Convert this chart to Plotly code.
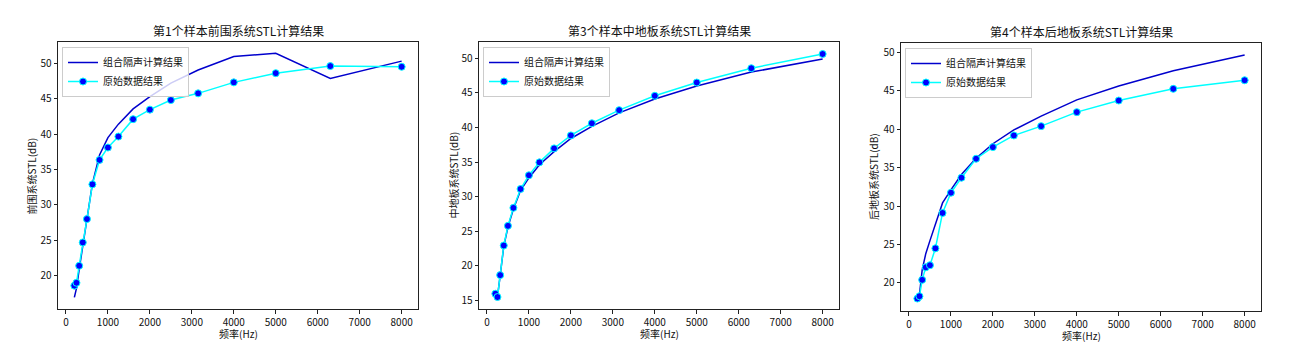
import plotly.graph_objects as go

freq = [200, 250, 315, 400, 500, 630, 800, 1000, 1250, 1600, 2000, 2500, 3150, 4000, 5000, 6300, 8000]

# Sample 1 - 前围系统
calc1 = [16.95, 18.2, 20.9, 24.5, 28.0, 33.0, 37.05, 39.5, 41.4, 43.55, 45.3, 47.2, 49.05, 50.95, 51.4, 47.85, 50.3]
orig1 = [18.6, 19.0, 21.4, 24.7, 28.0, 32.9, 36.35, 38.1, 39.65, 42.1, 43.45, 44.8, 45.75, 47.3, 48.6, 49.6, 49.5]

# Sample 3 - 中地板系统
calc3 = [16.0, 15.5, 18.6, 22.8, 25.6, 28.2, 30.9, 32.7, 34.6, 36.5, 38.4, 40.15, 42.1, 44.1, 46.0, 48.0, 49.9]
orig3 = [15.96, 15.48, 18.65, 22.93, 25.77, 28.37, 31.1, 33.08, 34.95, 36.97, 38.85, 40.6, 42.5, 44.57, 46.49, 48.56, 50.62]

# Sample 4 - 后地板系统
calc4 = [17.9, 18.5, 21.7, 23.8, 25.5, 27.7, 30.4, 32.1, 34.1, 36.2, 38.1, 39.9, 41.7, 43.8, 45.6, 47.6, 49.65]
orig4 = [17.97, 18.27, 20.4, 22.03, 22.3, 24.5, 29.1, 31.73, 33.68, 36.15, 37.66, 39.18, 40.39, 42.21, 43.72, 45.24, 46.36]

titles = ["第1个样本前围系统STL计算结果", "第3个样本中地板系统STL计算结果", "第4个样本后地板系统STL计算结果"]
ylabels = ["前围系统STL(dB)", "中地板系统STL(dB)", "后地板系统STL(dB)"]
xlabel = "频率(Hz)"
name_calc = "组合隔声计算结果"
name_orig = "原始数据结果"

W, H = 1307, 350
FONT = "Noto Sans CJK SC, SimHei, sans-serif"

# axes pixel boxes (left, right, top, bottom)
boxes = [(58, 418, 42, 309), (479, 839, 42, 309), (901, 1261, 43, 311)]
yranges = [[15.3, 53.0], [13.75, 52.35], [16.35, 51.2]]
ylabel_x = [31, 453, 874]

data = [(calc1, orig1), (calc3, orig3), (calc4, orig4)]

fig = go.Figure()
annotations = []
layout = {}
for i, ((calc, orig), (l, r, t, b)) in enumerate(zip(data, boxes)):
    k = "" if i == 0 else str(i + 1)
    leg = "legend" if i == 0 else f"legend{i + 1}"
    fig.add_trace(go.Scatter(
        x=freq, y=calc, mode="lines", name=name_calc,
        line=dict(color="#0000cd", width=1.5),
        xaxis="x" + k, yaxis="y" + k, legend=leg))
    fig.add_trace(go.Scatter(
        x=freq, y=orig, mode="lines+markers", name=name_orig,
        line=dict(color="#00ffff", width=1.5),
        marker=dict(color="#0000ff", size=7, line=dict(color="#00ffff", width=1)),
        xaxis="x" + k, yaxis="y" + k, legend=leg))
    axcommon = dict(showline=True, linecolor="#222", linewidth=1, mirror=True,
                    ticks="outside", ticklen=3.5, tickwidth=0.8, tickcolor="#222",
                    showgrid=False, zeroline=False,
                    tickfont=dict(family=FONT, size=10, color="#111"))
    layout["xaxis" + k] = dict(domain=[l / W, r / W], anchor="y" + k,
                               range=[-190, 8390], tickmode="array",
                               tickvals=list(range(0, 9000, 1000)), **axcommon)
    layout["yaxis" + k] = dict(domain=[1 - b / H, 1 - t / H], anchor="x" + k,
                               range=yranges[i], dtick=5, **axcommon)
    layout[leg] = dict(x=(l + 4) / W, y=1 - (t + 5) / H, xref="paper", yref="paper",
                       xanchor="left", yanchor="top",
                       bgcolor="rgba(255,255,255,0.8)", bordercolor="#cccccc", borderwidth=1,
                       font=dict(family=FONT, size=10, color="#111"),
                       tracegroupgap=0, itemwidth=30)
    annotations.append(dict(text=titles[i], x=(l + r) / 2 / W, y=1 - (t - 11) / H,
                            xref="paper", yref="paper", showarrow=False,
                            xanchor="center", yanchor="middle",
                            font=dict(family=FONT, size=12, color="#111")))
    annotations.append(dict(text=xlabel, x=(l + r) / 2 / W, y=1 - (b + 24) / H,
                            xref="paper", yref="paper", showarrow=False,
                            xanchor="center", yanchor="middle",
                            font=dict(family=FONT, size=10, color="#111")))
    annotations.append(dict(text=ylabels[i], x=ylabel_x[i] / W, y=1 - (t + b) / 2 / H,
                            xref="paper", yref="paper", showarrow=False, textangle=-90,
                            xanchor="center", yanchor="middle",
                            font=dict(family=FONT, size=10, color="#111")))

fig.update_layout(width=W, height=H, margin=dict(l=0, r=0, t=0, b=0),
                  paper_bgcolor="white", plot_bgcolor="white",
                  annotations=annotations, showlegend=True, **layout)
fig.write_html("out.html")
